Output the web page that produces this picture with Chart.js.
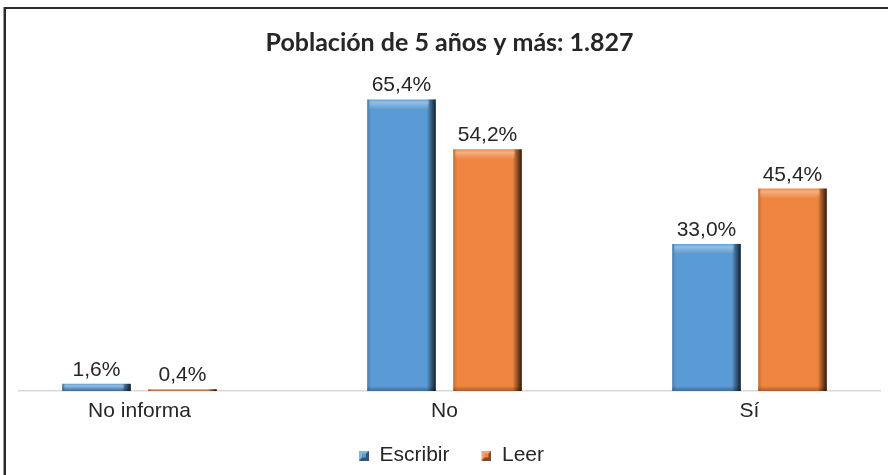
<!DOCTYPE html>
<html>
<head>
<meta charset="utf-8">
<script src="https://cdn.jsdelivr.net/npm/chart.js@4/dist/chart.umd.min.js"></script>
<style>
 html, body { margin:0; padding:0; background:#fff; overflow:hidden; }
 #wrap { position:relative; width:888px; height:475px; }
 #marco { position:absolute; left:4px; top:7px; width:900px; height:480px;
          border-top:2px solid #2b2b2b; border-left:2px solid #2b2b2b;
          box-shadow:-1px 0 0 #9a9a9a; pointer-events:none; }
 canvas { position:absolute; left:0; top:0; }
</style>
</head>
<body>
<div id="wrap">
 <canvas id="grafico" width="888" height="475"></canvas>
 <div id="marco"></div>
</div>
<script>
const titulo = "Población de 5 años y más: 1.827"
const categorias = ["No informa", "No", "Sí"]
const escribir = [1.6, 65.4, 33.0]
const leer = [0.4, 54.2, 45.4]

const AZUL = "#5b9bd5"
const NARANJA = "#ef8540"
const TEXTO = "#262626"
const FUENTE = "'Liberation Sans', Arial, sans-serif"

// cuadrito del legend con bisel (hueco a la izquierda para separar los items)
function marcador(color){
 const c = document.createElement("canvas")
 c.width = 22; c.height = 10
 const g = c.getContext("2d")
 g.translate(12, 0)
 g.fillStyle = color; g.fillRect(0,0,10,10)
 g.fillStyle = "rgba(0,0,0,0.45)"
 g.beginPath(); g.moveTo(10,0); g.lineTo(10,10); g.lineTo(0,10); g.lineTo(3,7); g.lineTo(7,7); g.lineTo(7,3); g.closePath(); g.fill()
 g.fillStyle = "rgba(255,255,255,0.25)"
 g.beginPath(); g.moveTo(0,0); g.lineTo(10,0); g.lineTo(7,3); g.lineTo(3,3); g.lineTo(3,7); g.lineTo(0,10); g.closePath(); g.fill()
 return c
}

// efecto bisel de las barras (como en Excel)
const bisel = {
 id: "bisel",
 afterDatasetsDraw(chart){
  const ctx = chart.ctx
  chart.data.datasets.forEach((ds, i) => {
   chart.getDatasetMeta(i).data.forEach(bar => {
    const w = bar.width, l = bar.x - w/2, r = bar.x + w/2
    const t = Math.min(bar.y, bar.base), b = Math.max(bar.y, bar.base)
    const h = b - t
    if(h <= 0) return
    ctx.save()
    let g = ctx.createLinearGradient(r-9, 0, r, 0)
    g.addColorStop(0, "rgba(0,0,0,0)"); g.addColorStop(1, "rgba(0,0,0,0.8)")
    ctx.fillStyle = g; ctx.fillRect(r-9, t, 9, h)
    g = ctx.createLinearGradient(l, 0, l+4, 0)
    g.addColorStop(0, "rgba(0,0,0,0.18)"); g.addColorStop(1, "rgba(0,0,0,0)")
    ctx.fillStyle = g; ctx.fillRect(l, t, 4, h)
    const ht = Math.min(10, h)
    g = ctx.createLinearGradient(0, t, 0, t+ht)
    g.addColorStop(0, "rgba(255,255,255,0.05)"); g.addColorStop(0.3, "rgba(255,255,255,0.35)"); g.addColorStop(1, "rgba(255,255,255,0)")
    ctx.fillStyle = g; ctx.fillRect(l+2, t, w-9, ht)
    const hb = Math.min(5, h)
    g = ctx.createLinearGradient(0, b-hb, 0, b)
    g.addColorStop(0, "rgba(0,0,0,0)"); g.addColorStop(1, "rgba(0,0,0,0.3)")
    ctx.fillStyle = g; ctx.fillRect(l, b-hb, w, hb)
    ctx.restore()
   })
  })
 }
}

// etiquetas de porcentaje encima de cada barra
const etiquetas = {
 id: "etiquetas",
 afterDatasetsDraw(chart){
  const ctx = chart.ctx
  ctx.save()
  ctx.font = "21px " + FUENTE
  ctx.fillStyle = TEXTO
  ctx.textAlign = "center"
  ctx.textBaseline = "alphabetic"
  chart.data.datasets.forEach((ds, i) => {
   chart.getDatasetMeta(i).data.forEach((bar, j) => {
    const v = ds.data[j].y
    ctx.fillText(v.toFixed(1).replace(".", ",") + "%", bar.x, bar.y - 8)
   })
  })
  ctx.restore()
 }
}

// correr un poco la leyenda a la izquierda
const ajusteLeyenda = {
 id: "ajusteLeyenda",
 afterLayout(chart){
  chart.legend.left -= 4
  chart.legend.right -= 4
 }
}

const datos = {
 datasets: [
  { label: "Escribir", data: escribir.map((v,i) => ({x:i, y:v})), backgroundColor: AZUL, pointStyle: marcador(AZUL) },
  { label: "Leer", data: leer.map((v,i) => ({x:i, y:v})), backgroundColor: NARANJA, pointStyle: marcador(NARANJA) }
 ]
}

new Chart(document.getElementById("grafico"), {
 type: "bar",
 data: datos,
 plugins: [bisel, etiquetas, ajusteLeyenda],
 options: {
  responsive: false,
  devicePixelRatio: 1,
  animation: false,
  categoryPercentage: 0.564,
  barPercentage: 0.797,
  layout: { padding: { left: 19, right: 8, top: 0, bottom: 0 } },
  scales: {
   x: {
    type: "linear",
    offset: false,
    min: -0.395,
    max: 2.428,
    grid: { display: false, drawTicks: false },
    border: { display: true, color: "#d9d9d9", width: 1.5 },
    afterBuildTicks: s => { s.ticks = categorias.map((c,i) => ({ value: i })) },
    afterFit: s => { s.height = 34 },
    ticks: { padding: 8, color: TEXTO, font: { family: FUENTE, size: 21 }, callback: v => categorias[v] }
   },
   y: { display: false, min: 0, max: 72 }
  },
  plugins: {
   title: {
    display: true,
    text: titulo,
    color: TEXTO,
    font: { family: "Lato, 'Open Sans', sans-serif", size: 25, weight: "bold" },
    padding: { top: 28, bottom: 12 }
   },
   legend: {
    position: "bottom",
    maxHeight: 50,
    labels: { usePointStyle: true, pointStyleWidth: 22, boxWidth: 10, boxHeight: 10, padding: 20, color: TEXTO, font: { family: FUENTE, size: 21 } }
   },
   tooltip: { enabled: false }
  }
 }
})
</script>
</body>
</html>
